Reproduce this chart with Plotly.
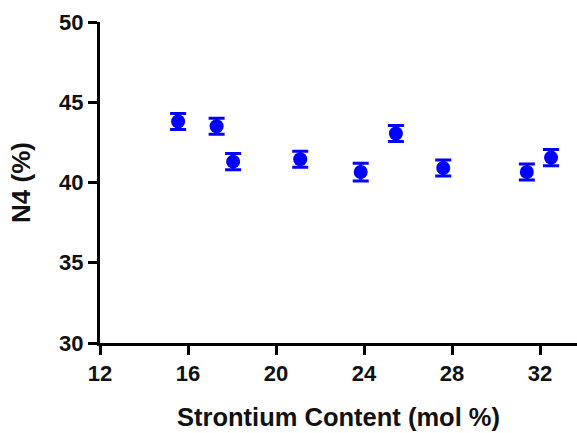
import plotly.graph_objects as go

sr_content = [15.55, 17.3, 18.05, 21.1, 23.85, 25.45, 27.6, 31.4, 32.5]
n4_percent = [43.8, 43.5, 41.3, 41.45, 40.65, 43.05, 40.9, 40.65, 41.55]
n4_error = [0.5, 0.5, 0.5, 0.5, 0.55, 0.5, 0.5, 0.5, 0.5]

x_ticks = [12, 16, 20, 24, 28, 32]
y_ticks = [30, 35, 40, 45, 50]

fig = go.Figure()
fig.add_trace(go.Scatter(
    x=sr_content, y=n4_percent, mode="markers",
    marker=dict(color="#0000ff", size=14, symbol="circle"),
    error_y=dict(type="data", array=n4_error, visible=True,
                 color="#0000ff", thickness=3, width=8),
    showlegend=False,
))

font_family = "Liberation Sans, Arial, sans-serif"
fig.update_layout(
    width=577, height=433,
    margin=dict(l=100, r=0, t=22, b=90),
    paper_bgcolor="white", plot_bgcolor="white",
    font=dict(family=font_family, color="#111111"),
)
fig.update_xaxes(
    range=[12, 33.68], tickvals=x_ticks, ticktext=[str(v) for v in x_ticks],
    showgrid=False, zeroline=False, showline=True, linecolor="black", linewidth=3,
    ticks="outside", ticklen=9, tickwidth=3, tickcolor="black",
    tickfont=dict(size=22, family=font_family, weight="bold"),
    title=dict(text="Strontium Content (mol %)", standoff=23,
               font=dict(size=25.5, family=font_family, weight="bold")),
)
fig.update_yaxes(
    range=[30, 50], tickvals=y_ticks, ticktext=[str(v) for v in y_ticks],
    showgrid=False, zeroline=False, showline=True, linecolor="black", linewidth=3,
    ticks="outside", ticklen=9, tickwidth=3, tickcolor="black",
    tickfont=dict(size=22, family=font_family, weight="bold"),
    title=dict(text="N4 (%)", standoff=22,
               font=dict(size=26, family=font_family, weight="bold")),
)
fig.write_html("out.html")
